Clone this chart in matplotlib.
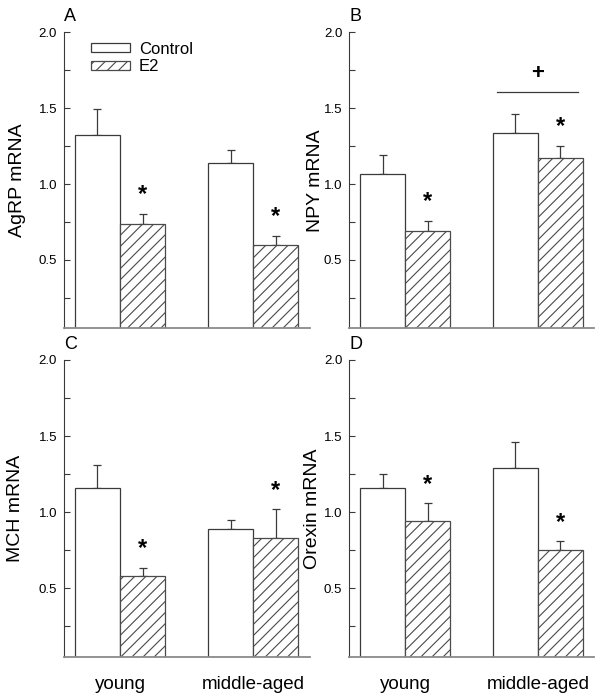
import numpy as np
import matplotlib
matplotlib.use('Agg')
import matplotlib.pyplot as plt

plt.rcParams['font.family'] = ['Liberation Sans', 'DejaVu Sans']
plt.rcParams['hatch.linewidth'] = 0.8

# ---- data ----
groups = ['young', 'middle-aged']
series = ['Control', 'E2']
panel_letters = ['A', 'B', 'C', 'D']
ylabels = ['AgRP mRNA', 'NPY mRNA', 'MCH mRNA', 'Orexin mRNA']

agrp_ctrl = [1.323, 1.140]
agrp_ctrl_err = [0.169, 0.086]
agrp_e2 = [0.740, 0.597]
agrp_e2_err = [0.066, 0.064]

npy_ctrl = [1.066, 1.336]
npy_ctrl_err = [0.125, 0.125]
npy_e2 = [0.693, 1.171]
npy_e2_err = [0.066, 0.081]

mch_ctrl = [1.156, 0.892]
mch_ctrl_err = [0.155, 0.055]
mch_e2 = [0.579, 0.830]
mch_e2_err = [0.055, 0.190]

orexin_ctrl = [1.160, 1.292]
orexin_ctrl_err = [0.092, 0.171]
orexin_e2 = [0.944, 0.751]
orexin_e2_err = [0.113, 0.059]

# '*' = E2 vs control, '+' = age effect (panel B only)
e2_star = [[True, True], [True, True], [True, True], [True, True]]
age_plus = [None, 1.61, None, None]

ctrl_vals = [agrp_ctrl, npy_ctrl, mch_ctrl, orexin_ctrl]
ctrl_errs = [agrp_ctrl_err, npy_ctrl_err, mch_ctrl_err, orexin_ctrl_err]
e2_vals = [agrp_e2, npy_e2, mch_e2, orexin_e2]
e2_errs = [agrp_e2_err, npy_e2_err, mch_e2_err, orexin_e2_err]

# ---- layout (pixels of a 603x696 image) ----
W, H = 603, 696
fig = plt.figure(figsize=(W / 100, H / 100), dpi=100)

ax_px = [(64, 32.3, 310, 328.3), (349.3, 32.3, 594.3, 328.3),
         (64, 360, 310, 656.7), (349.3, 360, 594.3, 656.7)]
label_x = [-0.155, -0.103, -0.163, -0.116]

edge = '#3a3a3a'
bw = 0.338
x = np.arange(len(groups))

for i in range(4):
    l, t, r, b = ax_px[i]
    ax = fig.add_axes([l / W, 1 - b / H, (r - l) / W, (b - t) / H])

    ctrl_bars = ax.bar(x - bw / 2, ctrl_vals[i], bw, color='white',
                       edgecolor=edge, linewidth=0.9, label=series[0], zorder=2)
    e2_bars = ax.bar(x + bw / 2, e2_vals[i], bw, color='white', edgecolor='#4a4a4a',
                     hatch='///', linewidth=0.9, label=series[1], zorder=2)

    ax.errorbar(x - bw / 2, ctrl_vals[i], yerr=[np.zeros(2), ctrl_errs[i]],
                fmt='none', ecolor=edge, elinewidth=0.9, capsize=2.6,
                capthick=0.9, zorder=1)
    ax.errorbar(x + bw / 2, e2_vals[i], yerr=[np.zeros(2), e2_errs[i]],
                fmt='none', ecolor=edge, elinewidth=0.9, capsize=2.6,
                capthick=0.9, zorder=1)

    for j in range(len(groups)):
        if e2_star[i][j]:
            ytop = e2_vals[i][j] + e2_errs[i][j]
            ax.text(x[j] + bw / 2, ytop + 0.125, '*', ha='center', va='center',
                    fontsize=17, fontweight='bold', color='black')

    if age_plus[i] is not None:
        ax.plot([x[1] - 0.9 * bw, x[1] + 0.9 * bw], [age_plus[i], age_plus[i]],
                color=edge, linewidth=0.9)
        ax.text(x[1], age_plus[i] + 0.12, '+', ha='center', va='center',
                fontsize=16, fontweight='bold', color='black')

    ax.set_xlim(-0.42, 1.425)
    ax.set_ylim(0.05, 2.0)
    ax.set_yticks([0.5, 1.0, 1.5, 2.0])
    ax.set_yticks([0.25, 0.75, 1.25, 1.75], minor=True)
    ax.set_yticklabels(['0.5', '1.0', '1.5', '2.0'])
    ax.tick_params(axis='y', which='both', direction='in', length=4,
                   width=0.8, color=edge, labelsize=9.5, pad=5)
    ax.tick_params(axis='x', length=0)
    if i >= 2:
        ax.set_xticks(x)
        ax.set_xticklabels(groups, fontsize=13.5)
        ax.tick_params(axis='x', pad=14)
    else:
        ax.set_xticks([])

    ax.spines['top'].set_visible(False)
    ax.spines['right'].set_visible(False)
    ax.spines['left'].set_color(edge)
    ax.spines['left'].set_linewidth(0.8)
    ax.spines['bottom'].set_color('#8a8a8a')
    ax.spines['bottom'].set_linewidth(1.3)

    ax.set_ylabel(ylabels[i], fontsize=14)
    ax.yaxis.set_label_coords(label_x[i], 0.5)

    ax.text(0, 1.025, panel_letters[i], transform=ax.transAxes, ha='left',
            va='bottom', fontsize=13)

    if i == 0:
        ax.legend(handles=[ctrl_bars, e2_bars], loc='upper left',
                  bbox_to_anchor=(0.108, 0.968), frameon=False, fontsize=12,
                  handlelength=2.35, handleheight=0.45, handletextpad=0.55,
                  labelspacing=0.15, borderpad=0, borderaxespad=0)

fig.savefig('out.png', dpi=100)
